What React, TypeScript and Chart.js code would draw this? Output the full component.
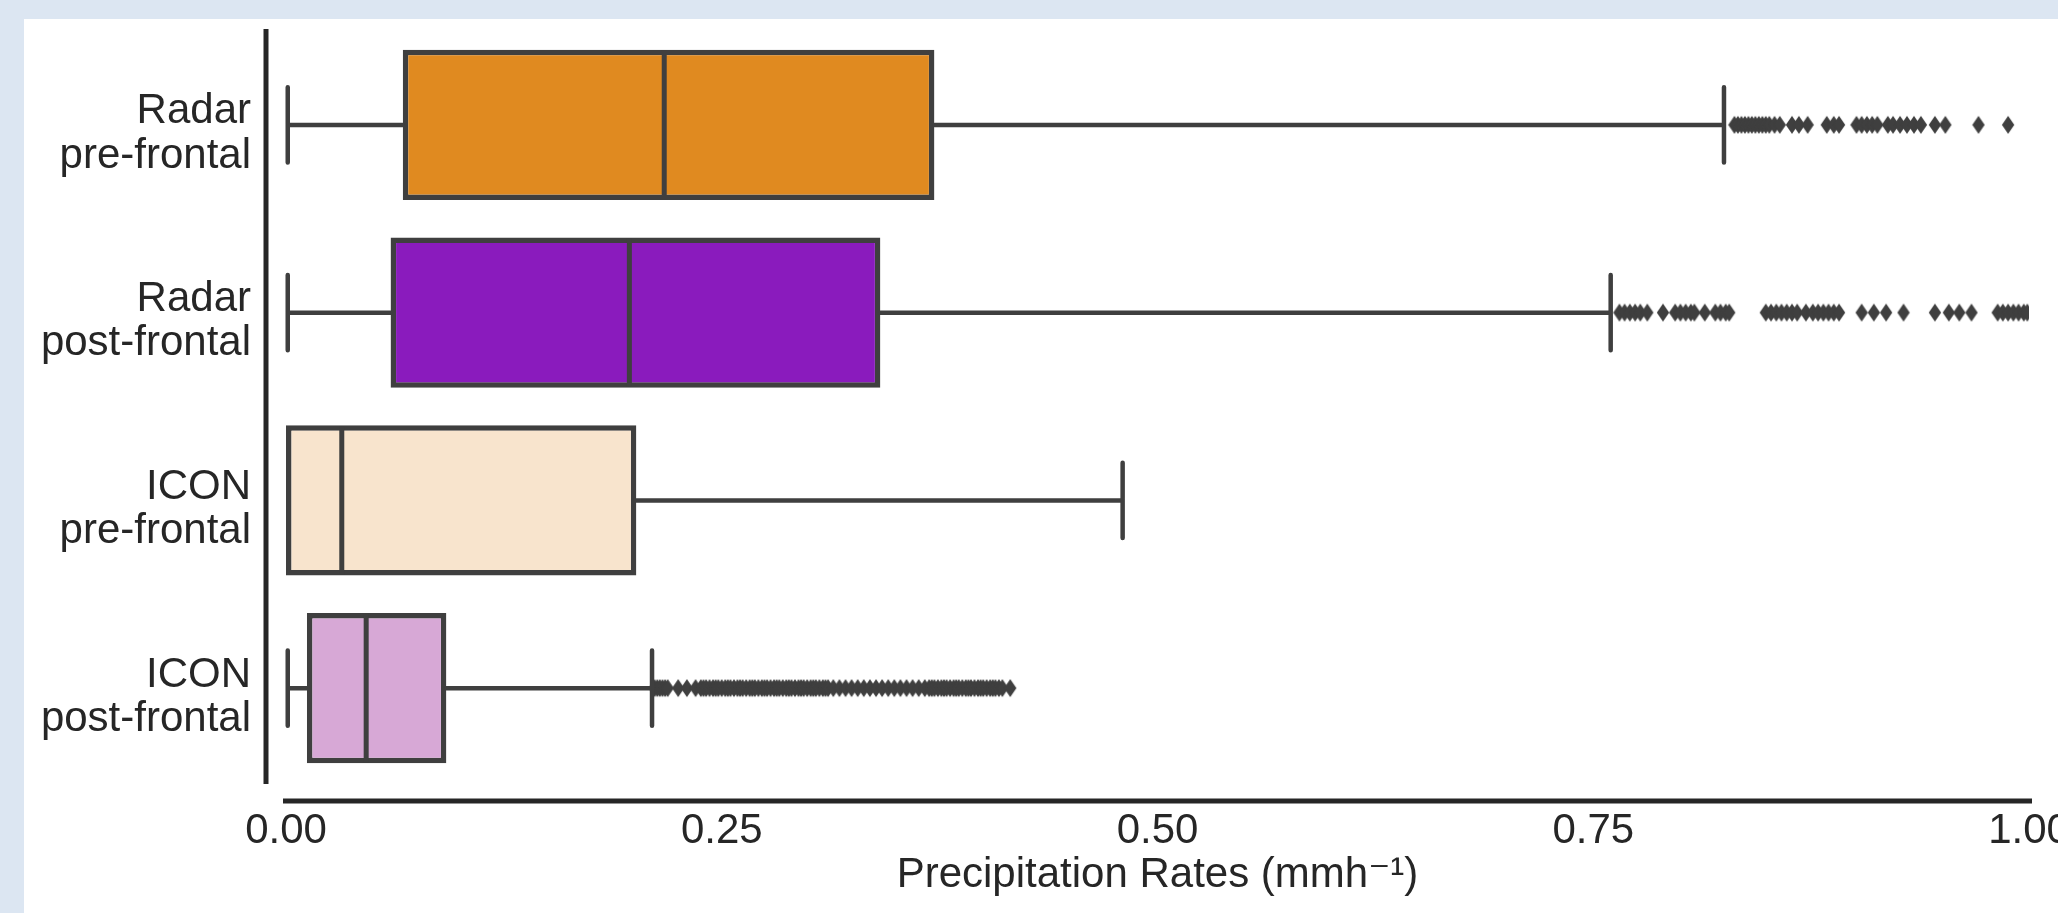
import React, { useEffect, useRef } from 'react';
import { Chart, registerables } from 'chart.js';

Chart.register(...registerables);

// ---------- data ----------
const categories = ['Radar pre-frontal', 'Radar post-frontal', 'ICON pre-frontal', 'ICON post-frontal'];
const categoryLines = [
  ['Radar', 'pre-frontal'],
  ['Radar', 'post-frontal'],
  ['ICON', 'pre-frontal'],
  ['ICON', 'post-frontal'],
];
const whiskerLow = [0.001, 0.001, 0.0, 0.001];
const q1 = [0.067, 0.06, 0.0, 0.012];
const median = [0.217, 0.197, 0.032, 0.046];
const q3 = [0.372, 0.341, 0.201, 0.092];
const whiskerHigh = [0.825, 0.76, 0.48, 0.21];
const boxColors = ['#e08a20', '#8a1bbd', '#f8e4cd', '#d7a8d6'];

const radarPreOutliers = [
  0.831, 0.833, 0.835, 0.837, 0.839, 0.841, 0.843, 0.845, 0.847, 0.849, 0.851, 0.854, 0.857,
  0.864, 0.868, 0.873, 0.884, 0.888, 0.891, 0.901, 0.904, 0.907, 0.910, 0.913,
  0.919, 0.922, 0.926, 0.930, 0.934, 0.938, 0.946, 0.952, 0.971, 0.988,
];
const radarPostOutliers = [
  0.765, 0.768, 0.771, 0.774, 0.777, 0.781, 0.790, 0.797, 0.800, 0.803, 0.806, 0.808, 0.814,
  0.820, 0.823, 0.826, 0.828, 0.849, 0.852, 0.855, 0.858, 0.861, 0.864, 0.867, 0.872,
  0.876, 0.879, 0.882, 0.885, 0.888, 0.891, 0.904, 0.911, 0.918, 0.928,
  0.946, 0.954, 0.960, 0.967, 0.982, 0.985, 0.988, 0.991, 0.994, 0.997, 0.999,
];
const iconPreOutliers: number[] = [];
const iconPostOutliers = [
  0.2115, 0.2130, 0.2145, 0.2160, 0.2175, 0.2190, 0.2250, 0.2300, 0.2350,
  0.2380, 0.2395, 0.2410, 0.2430, 0.2450, 0.2465, 0.2480, 0.2500, 0.2520, 0.2535, 0.2550,
  0.2570, 0.2590, 0.2605, 0.2620, 0.2640, 0.2660, 0.2675, 0.2690, 0.2710, 0.2730, 0.2745,
  0.2760, 0.2780, 0.2800, 0.2815, 0.2830, 0.2850, 0.2870, 0.2885, 0.2900, 0.2920, 0.2940,
  0.2955, 0.2970, 0.2990, 0.3010, 0.3025, 0.3040, 0.3060, 0.3080, 0.3095, 0.3110,
  0.3140, 0.3175, 0.3210, 0.3245, 0.3280, 0.3315, 0.3350, 0.3385, 0.3420, 0.3455, 0.3490,
  0.3525, 0.3560, 0.3595, 0.3630, 0.3665,
  0.3690, 0.3705, 0.3720, 0.3740, 0.3760, 0.3775, 0.3790, 0.3810, 0.3830, 0.3845, 0.3860,
  0.3880, 0.3900, 0.3915, 0.3930, 0.3950, 0.3970, 0.3985, 0.4000, 0.4020, 0.4040, 0.4055,
  0.4070, 0.4090, 0.4110, 0.4155,
];
const outlierSets = [radarPreOutliers, radarPostOutliers, iconPreOutliers, iconPostOutliers];

const xTicks = [0, 0.25, 0.5, 0.75, 1.0];
const xTickLabels = ['0.00', '0.25', '0.50', '0.75', '1.00'];
const xTitle = 'Precipitation Rates (mmh\u207B\u00B9)';

// ---------- style ----------
const EDGE = '#3f3f3f';
const TEXT = '#262626';
const FONT_FAMILY = '"Liberation Sans", Arial, "DejaVu Sans", sans-serif';
const CANVAS_W = 2120;
const CANVAS_H = 913;

function makeDiamond(): HTMLCanvasElement {
  const c = document.createElement('canvas');
  c.width = 14;
  c.height = 20;
  const g = c.getContext('2d')!;
  g.fillStyle = EDGE;
  g.beginPath();
  g.moveTo(7, 1);
  g.lineTo(13.2, 10);
  g.lineTo(7, 19);
  g.lineTo(0.8, 10);
  g.closePath();
  g.fill();
  return c;
}

const boxPlugin = {
  id: 'boxWhiskers',
  afterDatasetsDraw(chart: any) {
    const { ctx, scales } = chart;
    const x = scales.x;
    const y = scales.y;
    const band = Math.abs(y.getPixelForValue(1) - y.getPixelForValue(0));
    const capHalf = band * 0.2;
    const boxHalf = band * 0.4;
    ctx.save();
    ctx.strokeStyle = EDGE;
    categories.forEach((_c, i) => {
      const cy = y.getPixelForValue(i);
      const xl = x.getPixelForValue(whiskerLow[i]);
      const x1 = x.getPixelForValue(q1[i]);
      const xm = x.getPixelForValue(median[i]);
      const x3 = x.getPixelForValue(q3[i]);
      const xh = x.getPixelForValue(whiskerHigh[i]);
      ctx.lineCap = 'round';
      ctx.lineWidth = 4.5;
      ctx.beginPath();
      if (x1 > xl + 1) {
        ctx.moveTo(xl, cy);
        ctx.lineTo(x1, cy);
        ctx.moveTo(xl, cy - capHalf);
        ctx.lineTo(xl, cy + capHalf);
      }
      ctx.moveTo(x3, cy);
      ctx.lineTo(xh, cy);
      ctx.moveTo(xh, cy - capHalf);
      ctx.lineTo(xh, cy + capHalf);
      ctx.stroke();
      ctx.lineCap = 'butt';
      ctx.lineWidth = 5;
      ctx.beginPath();
      ctx.moveTo(xm, cy - boxHalf + 1);
      ctx.lineTo(xm, cy + boxHalf - 1);
      ctx.stroke();
    });
    ctx.restore();
  },
  afterDraw(chart: any) {
    const { ctx, chartArea: ca } = chart;
    ctx.save();
    ctx.strokeStyle = TEXT;
    ctx.lineWidth = 5;
    ctx.lineCap = 'butt';
    ctx.beginPath();
    ctx.moveTo(ca.left - 20, ca.top - 2);
    ctx.lineTo(ca.left - 20, ca.bottom + 2);
    ctx.stroke();
    ctx.beginPath();
    ctx.moveTo(ca.left - 3, ca.bottom + 19);
    ctx.lineTo(ca.right + 3, ca.bottom + 19);
    ctx.stroke();
    ctx.restore();
  },
};

export default function App() {
  const canvasRef = useRef<HTMLCanvasElement | null>(null);

  useEffect(() => {
    const canvas = canvasRef.current;
    if (!canvas) return;
    const diamond = makeDiamond();
    const outlierData: { x: number; y: string }[] = [];
    outlierSets.forEach((set, i) => {
      set.forEach((v) => outlierData.push({ x: v, y: categories[i] }));
    });
    const tickFont = { family: FONT_FAMILY, size: 42 };
    const chart = new Chart(canvas, {
      type: 'bar',
      data: {
        labels: categories,
        datasets: [
          {
            type: 'bar',
            indexAxis: 'y',
            data: q1.map((v, i) => [v, q3[i]]),
            backgroundColor: boxColors,
            borderColor: EDGE,
            borderWidth: 5.5,
            borderSkipped: false,
            barPercentage: 0.8,
            categoryPercentage: 1.0,
          } as any,
          {
            type: 'scatter',
            data: outlierData,
            pointStyle: diamond,
            pointRadius: 8,
            clip: 0,
          } as any,
        ],
      },
      options: {
        responsive: false,
        animation: false,
        devicePixelRatio: 1,
        layout: { padding: { top: 31, right: CANVAS_W - 2029, bottom: 0, left: 0 } },
        plugins: {
          legend: { display: false },
          tooltip: { enabled: false },
          title: { display: false },
        },
        scales: {
          x: {
            type: 'linear',
            min: 0,
            max: 1,
            offset: false,
            afterBuildTicks: (s: any) => {
              s.ticks = xTicks.map((v) => ({ value: v }));
            },
            afterFit: (s: any) => {
              s.height = 131;
              s.paddingLeft = 0;
              s.paddingRight = 0;
            },
            ticks: {
              callback: (_v: any, i: number) => xTickLabels[i],
              font: tickFont,
              color: TEXT,
              padding: 24,
              maxRotation: 0,
              autoSkip: false,
            },
            grid: { display: false, drawTicks: false, offset: false },
            border: { display: false },
            title: {
              display: true,
              text: xTitle,
              font: { family: FONT_FAMILY, size: 42 },
              color: TEXT,
              padding: { top: 0, bottom: 12 },
            },
          },
          y: {
            type: 'category',
            labels: categories,
            offset: true,
            afterFit: (s: any) => {
              s.width = 286;
              s.paddingTop = 0;
              s.paddingBottom = 0;
            },
            ticks: {
              callback: (_v: any, i: number) => categoryLines[i],
              font: { family: FONT_FAMILY, size: 42, lineHeight: 1.05 },
              color: TEXT,
              padding: 35,
              labelOffset: 9,
              autoSkip: false,
            },
            grid: { display: false, drawTicks: false },
            border: { display: false },
          },
        },
      } as any,
      plugins: [boxPlugin],
    });
    return () => chart.destroy();
  }, []);

  return (
    <div
      style={{
        position: 'absolute',
        left: 0,
        top: 0,
        width: 2058,
        height: 913,
        overflow: 'hidden',
        background: '#dce6f2',
      }}
    >
      <div
        style={{
          position: 'absolute',
          left: 24,
          top: 19,
          width: 2034,
          height: 894,
          background: '#ffffff',
        }}
      />
      <canvas
        ref={canvasRef}
        width={CANVAS_W}
        height={CANVAS_H}
        style={{ position: 'absolute', left: 0, top: 0, width: CANVAS_W, height: CANVAS_H }}
      />
    </div>
  );
}
